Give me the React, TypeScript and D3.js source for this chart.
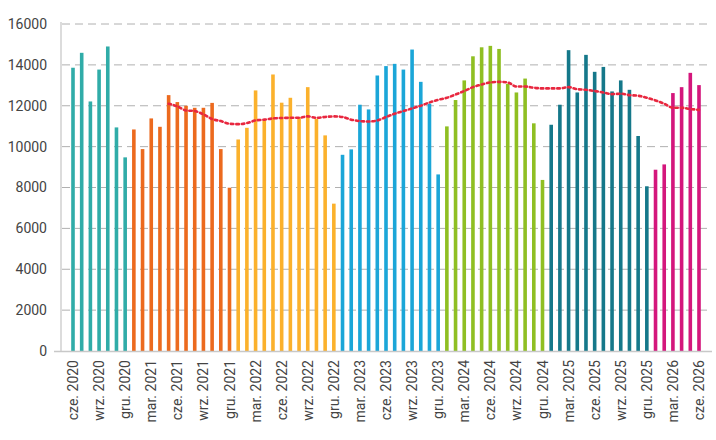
import * as d3 from "d3";

const monthNames = ["sty.", "lut.", "mar.", "kwi.", "maj.", "cze.", "lip.", "sie.", "wrz.", "paź.", "lis.", "gru."];
const startYear = 2020;
const startMonth = 5; // June
const values2020 = [13860, 14590, 12210, 13770, 14900, 10940, 9475];
const values2021 = [10840, 9880, 11380, 10970, 12520, 12180, 12000, 11900, 11900, 12140, 9880, 7990];
const values2022 = [10350, 10920, 12750, 11280, 13530, 12150, 12390, 11440, 12910, 11360, 10550, 7210];
const values2023 = [9600, 9865, 12050, 11820, 13480, 13940, 14050, 13770, 14750, 13170, 12100, 8640];
const values2024 = [10990, 12280, 13240, 14420, 14860, 14930, 14780, 13070, 12650, 13330, 11140, 8370];
const values2025 = [11070, 12050, 14720, 12650, 14490, 13660, 13900, 12700, 13240, 12780, 10520, 8060];
const values2026 = [8870, 9130, 12620, 12910, 13610, 13010];
const yearColors = ["#30aca8", "#ec6a1e", "#fbb12c", "#1ba6d8", "#8fbf22", "#15788a", "#d4167c"];
// 12-month moving average, May 2021 .. Jun 2026
const avgStart = 11;
const avgValues = [12100, 11970, 11770, 11740, 11580, 11350, 11250, 11120, 11100, 11150, 11280, 11320, 11380, 11400, 11410, 11410, 11480, 11410, 11450, 11480, 11450, 11320, 11250, 11230, 11280, 11450, 11610, 11740, 11870, 12000, 12160, 12290, 12390, 12550, 12720, 12910, 13040, 13140, 13170, 13140, 12940, 12940, 12880, 12850, 12850, 12850, 12910, 12810, 12780, 12720, 12650, 12570, 12590, 12520, 12490, 12390, 12260, 12100, 11900, 11900, 11840, 11800];
const yTicks = [0, 2000, 4000, 6000, 8000, 10000, 12000, 14000, 16000];

const years = [values2020, values2021, values2022, values2023, values2024, values2025, values2026];
const bars = years.flatMap((vals, yi) =>
  vals.map((v, k) => {
    const m = yi === 0 ? startMonth + k : k;
    return { value: v, color: yearColors[yi], label: `${monthNames[m]} ${startYear + yi}`, month: m };
  })
);

export default function App() {
  const width = 716, height = 440;
  const x = d3.scalePoint<number>().domain(bars.map((_, i) => i)).range([73, 699]);
  const y = d3.scaleLinear().domain([0, 16000]).range([351, 24]);
  const bw = 3.6;
  const line = d3.line<number>()
    .x((_, i) => x(avgStart + i)!)
    .y(d => y(d))
    .curve(d3.curveMonotoneX);

  return (
    <svg width={width} height={height} style={{ position: "absolute", left: 0, top: 0, fontFamily: "Roboto, sans-serif" }}>
      {yTicks.map(t => (
        <g key={t}>
          {t > 0 && (
            <line x1={62} x2={712} y1={y(t)} y2={y(t)} stroke="#b0b0b0" strokeWidth={1} strokeDasharray="8,5" />
          )}
          <text x={47} y={y(t)} dy="0.35em" textAnchor="end" fontSize={14} fill="#444">{t}</text>
        </g>
      ))}
      <line x1={61} x2={61} y1={22} y2={352} stroke="#d0d0d0" strokeWidth={1.5} />
      {bars.map((b, i) => (
        <rect key={i} x={x(i)! - bw / 2} y={y(b.value)} width={bw} height={y(0) - y(b.value)} fill={b.color} />
      ))}
      <line x1={54} x2={712} y1={351.5} y2={351.5} stroke="#c8c8c8" strokeWidth={1.5} />
      <path d={line(avgValues) ?? ""} fill="none" stroke="#e8273f" strokeWidth={2.6} strokeDasharray="2.5,3" strokeLinecap="round" />
      {bars.map((b, i) => i % 3 === 0 && (
        <text key={i} transform={`translate(${x(i)! + 5},360) rotate(-90)`} textAnchor="end" fontSize={14} fill="#444">
          {b.label}
        </text>
      ))}
    </svg>
  );
}
